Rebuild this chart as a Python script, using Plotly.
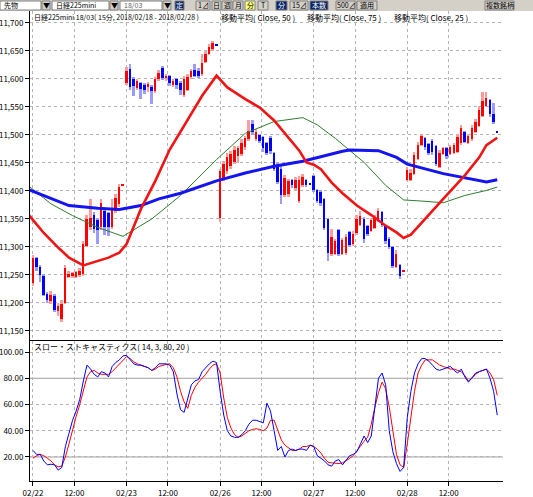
import plotly.graph_objects as go

# x axis: 15-minute bars, 26 per session
tick_bars = [0, 11.5, 26, 37.5, 52, 63.5, 78, 89.5, 104, 115.5]
tick_text = ["02/22", "12:00", "02/23", "12:00", "02/26", "12:00",
             "02/27", "12:00", "02/28", "12:00"]

bar_open = [
    11236, 11280, 11264, 11249, 11216, 11204, 11212, 11186, 11172, 11200, 11246, 11248, 11247,
    11250, 11252, 11302, 11335, 11358, 11348, 11335, 11365, 11360, 11336, 11365, 11376, 11409,
    11592, 11618, 11600, 11584, 11592, 11590, 11585, 11586, 11578, 11600, 11620, 11602, 11605,
    11590, 11600, 11592, 11572, 11580, 11603, 11616, 11615, 11609, 11630, 11645, 11653, 11661,
    11352, 11422, 11435, 11445, 11452, 11462, 11466, 11478, 11492, 11520, 11492, 11500, 11496,
    11485, 11494, 11467, 11447, 11440, 11392, 11395, 11420, 11405, 11382, 11410, 11420, 11413,
    11426, 11402, 11398, 11385, 11350, 11288, 11288, 11330, 11288, 11290, 11326, 11305, 11325,
    11340, 11350, 11338, 11328, 11334, 11346, 11362, 11338, 11315, 11300, 11264, 11268, 11256,
    11420, 11420, 11430, 11458, 11482, 11494, 11484, 11490, 11480, 11443, 11466, 11476, 11466,
    11468, 11470, 11486, 11506, 11486, 11492, 11505, 11516, 11534, 11552, 11562, 11538, 11507,
]
bar_high = [
    11286, 11283, 11268, 11252, 11220, 11222, 11216, 11200, 11205, 11268, 11258, 11256, 11258,
    11262, 11310, 11357, 11386, 11362, 11352, 11386, 11370, 11362, 11385, 11395, 11413, 11411,
    11621, 11626, 11604, 11600, 11594, 11592, 11594, 11590, 11603, 11616, 11624, 11609, 11608,
    11600, 11602, 11596, 11606, 11609, 11618, 11626, 11620, 11644, 11650, 11662, 11668, 11661,
    11440, 11453, 11468, 11472, 11480, 11480, 11492, 11498, 11527, 11527, 11510, 11502, 11498,
    11488, 11498, 11470, 11450, 11445, 11428, 11422, 11422, 11425, 11426, 11430, 11421, 11413,
    11428, 11404, 11402, 11387, 11352, 11332, 11315, 11333, 11316, 11324, 11329, 11328, 11358,
    11364, 11353, 11340, 11352, 11358, 11370, 11364, 11340, 11318, 11302, 11295, 11270, 11258,
    11443, 11440, 11470, 11487, 11502, 11496, 11486, 11493, 11482, 11473, 11479, 11479, 11482,
    11485, 11502, 11517, 11508, 11502, 11517, 11529, 11552, 11576, 11576, 11564, 11557, 11507,
]
bar_low = [
    11230, 11258, 11237, 11212, 11200, 11198, 11184, 11176, 11166, 11198, 11244, 11245, 11245,
    11246, 11249, 11300, 11330, 11325, 11305, 11330, 11322, 11320, 11333, 11360, 11372, 11409,
    11590, 11580, 11570, 11580, 11565, 11574, 11576, 11556, 11575, 11596, 11598, 11596, 11588,
    11585, 11582, 11572, 11568, 11578, 11600, 11603, 11602, 11606, 11628, 11643, 11650, 11659,
    11345, 11418, 11430, 11440, 11448, 11450, 11462, 11474, 11490, 11500, 11490, 11486, 11470,
    11465, 11466, 11436, 11412, 11376, 11390, 11390, 11405, 11402, 11378, 11408, 11408, 11411,
    11398, 11378, 11374, 11330, 11275, 11284, 11285, 11284, 11285, 11286, 11300, 11302, 11322,
    11338, 11308, 11320, 11326, 11332, 11344, 11336, 11306, 11296, 11262, 11262, 11243, 11256,
    11418, 11418, 11428, 11456, 11480, 11474, 11465, 11465, 11444, 11441, 11464, 11458, 11464,
    11466, 11468, 11483, 11485, 11484, 11490, 11503, 11514, 11532, 11550, 11532, 11520, 11505,
]
bar_close = [
    11280, 11264, 11250, 11215, 11205, 11214, 11188, 11194, 11198, 11262, 11252, 11254, 11255,
    11258, 11305, 11350, 11352, 11332, 11330, 11378, 11335, 11335, 11370, 11388, 11408, 11411,
    11615, 11585, 11588, 11597, 11583, 11580, 11591, 11578, 11600, 11610, 11602, 11606, 11593,
    11596, 11590, 11580, 11600, 11604, 11615, 11606, 11606, 11629, 11645, 11658, 11665, 11659,
    11436, 11448, 11460, 11466, 11474, 11476, 11486, 11494, 11508, 11506, 11505, 11490, 11476,
    11468, 11472, 11440, 11416, 11392, 11424, 11418, 11410, 11420, 11420, 11425, 11410, 11411,
    11402, 11382, 11378, 11334, 11290, 11318, 11310, 11288, 11312, 11318, 11304, 11324, 11350,
    11355, 11314, 11324, 11348, 11352, 11364, 11340, 11310, 11300, 11266, 11288, 11248, 11258,
    11438, 11432, 11464, 11482, 11498, 11478, 11468, 11470, 11448, 11468, 11476, 11462, 11478,
    11482, 11496, 11512, 11488, 11498, 11512, 11524, 11545, 11560, 11566, 11538, 11524, 11505,
]

# moving averages, read at selected bars
ma_fast_bar = [-1, 3, 7, 10, 14, 17, 21, 24, 26, 30, 34, 38, 43, 47, 51, 54, 59, 63, 67, 71,
               74, 76, 78, 80, 83, 86, 88, 90, 94, 98, 101, 103, 105, 109, 114, 120, 124, 126, 129]
ma_fast_val = [11356, 11325, 11299, 11281, 11267, 11273, 11281, 11290, 11305, 11368, 11418,
               11474, 11526, 11570, 11606, 11585, 11564, 11549, 11526, 11495, 11472, 11451,
               11447, 11439, 11415, 11396, 11385, 11374, 11357, 11338, 11326, 11316, 11322,
               11351, 11386, 11428, 11460, 11482, 11495]
ma_slow_bar = [-1, 5, 10, 18, 24, 30, 35, 41, 51, 59, 67, 75, 81, 86, 88, 96, 101, 104, 114,
               121, 126, 129]
ma_slow_val = [11402, 11386, 11374, 11369, 11367, 11374, 11386, 11396, 11418, 11432, 11444,
               11453, 11463, 11471, 11473, 11472, 11460, 11448, 11431, 11422, 11416, 11420]
ma_mid_bar = [-1, 5, 11, 18, 25, 33, 41, 51, 59, 67, 75, 79, 84, 88, 92, 98, 103, 108, 114,
              120, 126, 129]
ma_mid_val = [11408, 11377, 11356, 11335, 11319, 11350, 11392, 11456, 11503, 11524, 11531,
              11518, 11494, 11473, 11451, 11410, 11384, 11382, 11379, 11392, 11401, 11407]

# slow stochastics (14, 3, 80, 20)
stoch_k = [
    25, 22, 22, 17, 14, 14.5, 14, 10, 12, 28, 38, 48, 55, 64, 78, 90, 87, 83, 81, 85,
    84, 81, 89, 92, 94, 97, 97.5, 94, 91, 90, 90, 89, 88, 86, 88, 91, 91, 91, 90, 85,
    68, 56, 54, 65, 75, 78, 79, 85, 88, 91, 93, 92, 70, 52, 40, 36, 35, 35, 37, 40,
    45, 48, 48, 47, 46, 61, 55, 40, 25, 28, 20, 25, 26, 25, 26, 26, 25, 29, 28, 21,
    19, 17, 14, 13, 17, 18, 14, 18, 21, 22, 24, 30, 36, 31, 36, 58, 80, 84, 75, 40,
    24, 15, 9, 12, 50, 70, 84, 91, 95, 95, 93, 90, 87, 86, 87, 88, 89, 86, 84, 87,
    81, 77, 81, 84, 85, 86, 87, 80, 70, 52,
]
stoch_d = [
    19, 21, 22, 21, 19, 17, 14, 12.5, 13, 20, 30, 41, 51, 60, 70, 81, 85, 86, 84, 83,
    83, 83, 85, 88, 91, 94, 96.5, 95, 92.5, 91, 90, 89, 88, 86, 87, 89, 90, 90.5, 91, 88,
    81, 70, 62, 57, 67, 73, 77, 80, 83, 87, 90, 91, 84, 65, 50, 42, 37, 35, 36, 38,
    40, 41, 41.5, 41, 40, 42, 48, 48, 40, 33, 29, 27, 25, 25, 26, 28, 28, 29, 28, 26,
    23, 19, 16, 15.5, 15, 15, 15.5, 17, 19, 21, 25, 29, 32, 35, 45, 58, 69, 77, 72, 58,
    38, 22, 14, 12, 30, 50, 70, 84, 90, 94, 94, 94, 92, 90, 89, 88, 87, 87, 86, 85,
    82, 78, 80, 83, 85, 86, 87, 84, 79, 67,
]

bars = list(range(len(bar_open)))
up = [c >= o for o, c in zip(bar_open, bar_close)]
wick_colors = ['#ff9c9c' if u else '#9c9cff' for u in up]
body_colors = ['#ff0000' if u else '#0000ff' for u in up]
body_base = [min(o, c) for o, c in zip(bar_open, bar_close)]
body_len = [max(abs(c - o), 2) for o, c in zip(bar_open, bar_close)]

FONT = "Noto Sans CJK JP"
GRID = '#b4b4b4'

fig = go.Figure()

# candles: light wick bar under a solid body bar
fig.add_trace(go.Bar(
    x=bars, y=[h - l for h, l in zip(bar_high, bar_low)], base=bar_low,
    width=0.55, marker=dict(color=wick_colors, line_width=0),
    xaxis='x2', yaxis='y', hoverinfo='skip'))
fig.add_trace(go.Bar(
    x=bars, y=body_len, base=body_base,
    width=0.55, marker=dict(color=body_colors, line_width=0),
    xaxis='x2', yaxis='y', hoverinfo='skip'))

fig.add_trace(go.Scatter(x=ma_mid_bar, y=ma_mid_val, mode='lines',
                         line=dict(color='#2e7d2e', width=1), xaxis='x2', yaxis='y'))
fig.add_trace(go.Scatter(x=ma_slow_bar, y=ma_slow_val, mode='lines',
                         line=dict(color='#1414f0', width=3), xaxis='x2', yaxis='y'))
fig.add_trace(go.Scatter(x=ma_fast_bar, y=ma_fast_val, mode='lines',
                         line=dict(color='#f01414', width=2.6), xaxis='x2', yaxis='y'))

fig.add_trace(go.Scatter(x=bars, y=stoch_d, mode='lines',
                         line=dict(color='#ff0000', width=1), xaxis='x', yaxis='y2'))
fig.add_trace(go.Scatter(x=bars, y=stoch_k, mode='lines',
                         line=dict(color='#0000ff', width=1), xaxis='x', yaxis='y2'))


# plot area spans pixels x 30..503, y 11..481
def px_x(px):
    return (px - 30) / 473


def px_y(py):
    return (481 - py) / 470


shapes = []
annotations = []

# solid 80 / 20 lines in the stochastics panel
for lvl in [80, 20]:
    shapes.append(dict(type='line', xref='paper', yref='y2', x0=0, x1=1, y0=lvl, y1=lvl,
                       line=dict(color='#a0a0a0', width=1), layer='below'))

# toolbar strip
shapes.append(dict(type='rect', xref='paper', yref='paper', x0=px_x(0), x1=px_x(533),
                   y0=px_y(11), y1=px_y(0), fillcolor='#d4d0c8', line_width=0))


def box(x0, x1, fill, text='', color='black', border='#808080'):
    shapes.append(dict(type='rect', xref='paper', yref='paper', x0=px_x(x0), x1=px_x(x1),
                       y0=px_y(10), y1=px_y(1), fillcolor=fill,
                       line=dict(color=border, width=1)))
    if text:
        annotations.append(dict(xref='paper', yref='paper', x=px_x((x0 + x1) / 2),
                                y=px_y(5.5), text=text, showarrow=False,
                                xanchor='center', yanchor='middle',
                                font=dict(family=FONT, size=7, color=color)))


def label(x, text, y, size=8, color='black'):
    annotations.append(dict(xref='paper', yref='paper', x=px_x(x), y=px_y(y), text=text,
                            showarrow=False, xanchor='left', yanchor='middle',
                            font=dict(family=FONT, size=size, color=color)))


box(0, 41, 'white')
label(2, '先物', 5.5, 7)
box(42, 50, '#d4d0c8', '▼')
box(52, 109, 'white')
label(54, '日経225mini', 5.5, 7)
box(110, 118, '#d4d0c8', '▼')
box(120, 162, 'white')
label(122, '18/03', 5.5, 7, '#606060')
box(163, 171, '#d4d0c8', '▼')
box(175, 184, '#0a246a', '定', 'white')
box(196, 210, '#d4d0c8', '1⊿')
box(212, 221, '#d4d0c8', '日')
box(222, 232, '#d4d0c8', '週')
box(233, 243, '#d4d0c8', '月')
box(245, 255, '#ffff80', '分')
box(258, 268, '#d4d0c8', 'T')
box(276, 287, '#0a246a', '分', 'white')
box(290, 308, '#d4d0c8', '15⊿')
box(310, 328, '#0a246a', '本数', 'white')
box(336, 356, '#d4d0c8', '500⊿')
box(357, 377, '#d4d0c8', '適用')
box(485, 514, '#d4d0c8', '複数銘柄')

# panel headers
label(32, '日経225mini 18/03( 15分, 2018/02/18 - 2018/02/28 )', 17, 7)
label(219, '移動平均( Close, 50 )', 17, 8)
label(305, '移動平均( Close, 75 )', 17, 8)
label(392, '移動平均( Close, 25 )', 17, 8)
label(32, 'スロー・ストキャスティクス( 14, 3, 80, 20 )', 346, 8)

axis_font = dict(family=FONT, size=8, color='black')
price_axis = dict(range=[11133.9, 11721.4], tick0=11150, dtick=50, tickformat=',d',
                  ticks='outside', ticklen=4, tickcolor='black', showline=True,
                  linecolor='black', zeroline=False, tickfont=axis_font, automargin=False)
stoch_axis = dict(range=[1.7, 108.4], tickvals=[20, 40, 60, 80, 100], tickformat='.2f',
                  ticks='outside', ticklen=4, tickcolor='black', showline=True,
                  linecolor='black', zeroline=False, tickfont=axis_font, automargin=False)

fig.update_layout(
    width=533, height=497,
    margin=dict(l=30, r=30, t=11, b=16, autoexpand=False),
    paper_bgcolor='white', plot_bgcolor='white',
    showlegend=False, barmode='overlay', bargap=0,
    font=dict(family=FONT, size=8, color='black'),
    xaxis=dict(domain=[0, 1], anchor='y2', range=[-0.83, 130.6], tickvals=tick_bars,
               ticktext=tick_text, ticks='outside', ticklen=4, tickcolor='black',
               showline=True, linecolor='black', mirror=True, showgrid=True,
               gridcolor=GRID, griddash='dot', zeroline=False, tickfont=axis_font,
               automargin=False),
    xaxis2=dict(domain=[0, 1], anchor='y', matches='x', tickvals=tick_bars,
                showticklabels=False, ticks='', showline=True, linecolor='black',
                mirror=True, showgrid=True, gridcolor=GRID, griddash='dot',
                zeroline=False, automargin=False),
    yaxis=dict(domain=[0.3, 1], anchor='x2', side='left', showgrid=True,
               gridcolor=GRID, griddash='dot', **price_axis),
    yaxis3=dict(overlaying='y', anchor='x2', side='right', showgrid=False, **price_axis),
    yaxis2=dict(domain=[0, 0.2979], anchor='x', side='left', showgrid=True,
                gridcolor=GRID, griddash='dot', **stoch_axis),
    yaxis4=dict(overlaying='y2', anchor='x', side='right', showgrid=False, **stoch_axis),
    shapes=shapes,
    annotations=annotations,
)

# the page body has a default 8px margin; drop it so the figure fills the window
fig.write_html("out.html",
               config={'displayModeBar': False},
               post_script="document.body.style.margin='0';"
                           "document.body.style.overflow='hidden';")
